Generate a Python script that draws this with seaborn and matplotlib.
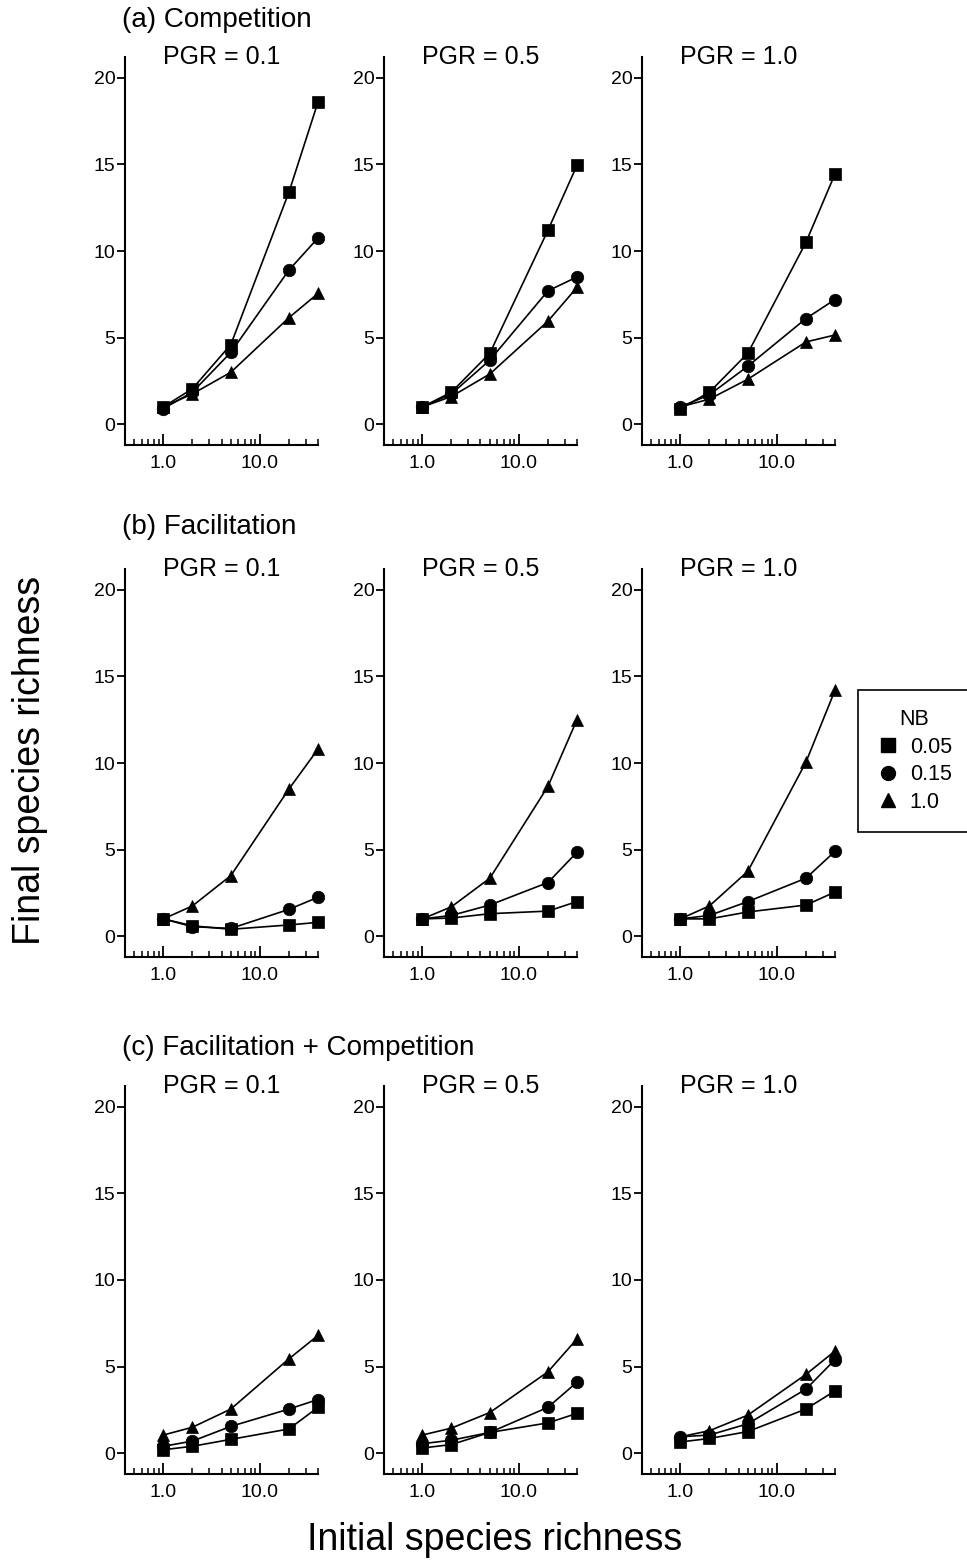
import numpy as np
import pandas as pd
import seaborn as sns
import matplotlib.pyplot as plt
from matplotlib.lines import Line2D
from matplotlib.ticker import FixedLocator, LogLocator, NullFormatter, FixedFormatter

# Initial species richness (x) and noise breadth levels
initial_richness = [1, 2, 5, 20, 40]
nb_levels = ['0.05', '0.15', '1.0']
pgr_labels = ['PGR = 0.1', 'PGR = 0.5', 'PGR = 1.0']
section_titles = ['(a) Competition', '(b) Facilitation', '(c) Facilitation + Competition']

# final species richness, rows: NB 0.05 / 0.15 / 1.0
comp_pgr01 = [[1.0, 2.05, 4.6, 13.4, 18.6],
              [0.9, 1.85, 4.15, 8.9, 10.75],
              [1.0, 1.75, 3.0, 6.15, 7.55]]
comp_pgr05 = [[1.0, 1.85, 4.1, 11.2, 14.95],
              [1.0, 1.75, 3.7, 7.7, 8.5],
              [1.0, 1.6, 2.9, 5.95, 7.9]]
comp_pgr10 = [[0.9, 1.85, 4.1, 10.5, 14.45],
              [1.0, 1.7, 3.35, 6.1, 7.2],
              [1.0, 1.45, 2.6, 4.75, 5.15]]

facil_pgr01 = [[1.0, 0.6, 0.4, 0.65, 0.8],
               [1.0, 0.55, 0.45, 1.55, 2.25],
               [1.0, 1.75, 3.5, 8.5, 10.8]]
facil_pgr05 = [[1.0, 1.05, 1.3, 1.45, 2.0],
               [1.0, 1.2, 1.8, 3.1, 4.85],
               [1.0, 1.7, 3.35, 8.65, 12.5]]
facil_pgr10 = [[1.0, 1.0, 1.4, 1.8, 2.55],
               [1.0, 1.2, 2.0, 3.35, 4.9],
               [1.0, 1.75, 3.75, 10.05, 14.2]]

both_pgr01 = [[0.2, 0.4, 0.8, 1.4, 2.65],
              [0.4, 0.7, 1.55, 2.55, 3.1],
              [1.05, 1.5, 2.55, 5.45, 6.8]]
both_pgr05 = [[0.3, 0.5, 1.2, 1.75, 2.3],
              [0.55, 0.75, 1.2, 2.65, 4.1],
              [1.05, 1.45, 2.35, 4.7, 6.6]]
both_pgr10 = [[0.65, 0.85, 1.25, 2.55, 3.6],
              [0.95, 1.05, 1.7, 3.7, 5.4],
              [0.95, 1.3, 2.2, 4.55, 5.9]]

panels = [[comp_pgr01, comp_pgr05, comp_pgr10],
          [facil_pgr01, facil_pgr05, facil_pgr10],
          [both_pgr01, both_pgr05, both_pgr10]]

markers = {'0.05': 's', '0.15': 'o', '1.0': '^'}

sns.set_style("ticks")
plt.rcParams['font.family'] = ['Liberation Sans', 'DejaVu Sans']
plt.rcParams['text.color'] = 'black'
plt.rcParams['axes.labelcolor'] = 'black'
plt.rcParams['xtick.color'] = 'black'
plt.rcParams['ytick.color'] = 'black'

W, H = 967, 1561
fig = plt.figure(figsize=(W / 100, H / 100), dpi=100)

cols = [(125, 318), (384, 577), (642, 835)]
rows = [(57, 445), (569, 957), (1086, 1474)]
title_y = [20, 527, 1048]

for r, (top, bottom) in enumerate(rows):
    fig.text(122 / W, 1 - title_y[r] / H, section_titles[r], ha='left', va='center', fontsize=20)
    for c, (left, right) in enumerate(cols):
        ax = fig.add_axes([left / W, 1 - bottom / H, (right - left) / W, (bottom - top) / H])
        vals = panels[r][c]
        df = pd.DataFrame({
            'x': np.tile(initial_richness, 3),
            'y': np.concatenate(vals),
            'NB': np.repeat(nb_levels, len(initial_richness)),
        })
        sns.lineplot(data=df, x='x', y='y', style='NB', style_order=nb_levels,
                     markers=markers, dashes=False, color='black', linewidth=1.2,
                     markersize=9, markeredgecolor='black', markeredgewidth=0.5,
                     estimator=None, legend=False, ax=ax)
        for ln in ax.lines:
            ln.set_clip_on(False)
        ax.set_xscale('log')
        ax.set_xlim(0.4, 40)
        ax.set_ylim(-1.2, 21.2)
        ax.xaxis.set_major_locator(FixedLocator([1, 10]))
        ax.xaxis.set_major_formatter(FixedFormatter(['1.0', '10.0']))
        ax.xaxis.set_minor_locator(LogLocator(base=10, subs=np.arange(2, 10)))
        ax.xaxis.set_minor_formatter(NullFormatter())
        ax.set_yticks([0, 5, 10, 15, 20])
        ax.set_xlabel('')
        ax.set_ylabel('')
        sns.despine(ax=ax)
        for s in ['left', 'bottom']:
            ax.spines[s].set_linewidth(1.5)
            ax.spines[s].set_color('black')
        ax.tick_params(axis='x', which='major', direction='in', length=8, width=1.3,
                       labelsize=14, pad=7)
        ax.tick_params(axis='x', which='minor', direction='in', length=4, width=1.1)
        ax.tick_params(axis='y', direction='out', length=6, width=1.3, labelsize=14,
                       pad=1)
        ax.text(0.5, 1.0, pgr_labels[c], transform=ax.transAxes, ha='center',
                va='center', fontsize=18)

handles = [Line2D([], [], linestyle='none', marker=markers[k], color='black',
                  markersize=10) for k in nb_levels]
leg = fig.legend(handles, nb_levels, title='NB', loc='upper left',
                 bbox_to_anchor=(858 / W, 1 - 690 / H), borderaxespad=0,
                 frameon=True, fancybox=False, edgecolor='black', framealpha=1,
                 fontsize=15.5, title_fontsize=15.5, handlelength=1.0,
                 handletextpad=0.5, borderpad=0.9, labelspacing=0.3)
leg.get_frame().set_linewidth(1.2)

fig.text(30 / W, 1 - 760 / H, 'Final species richness', rotation=90, ha='center',
         va='center', fontsize=27)
fig.text(495 / W, 1 - 1540 / H, 'Initial species richness', ha='center', va='center',
         fontsize=27)

fig.savefig('out.png', dpi=100)
